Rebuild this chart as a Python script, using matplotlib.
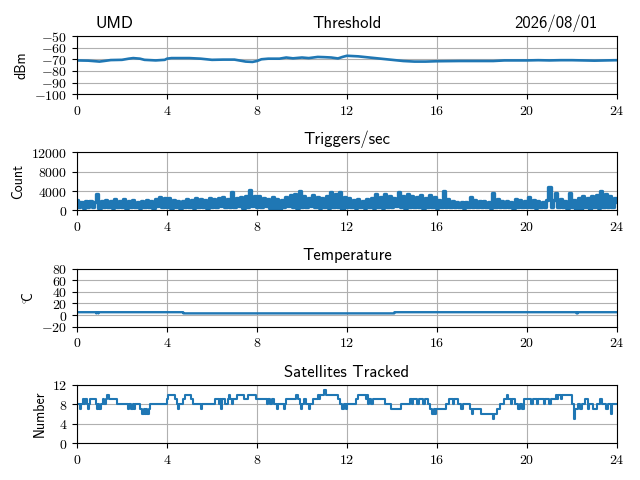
import numpy as np
import matplotlib
matplotlib.use("Agg")
import matplotlib.pyplot as plt
from matplotlib.ticker import FuncFormatter, MultipleLocator
from matplotlib.transforms import offset_copy

plt.rcParams['font.family'] = ['cmss10', 'DejaVu Sans']
plt.rcParams['mathtext.fontset'] = 'cm'
plt.rcParams['axes.unicode_minus'] = True

site_name = "UMD"
date_label = "2026/08/01"
titles = ["Threshold", "Triggers/sec", "Temperature", "Satellites Tracked"]
ylabels = ["dBm", "Count", "$^{\\circ}\\!\\!\\mathsf{C}$", "Number"]

# Threshold (dBm)
thr_hours = [0, 0.5, 1.0, 1.2, 1.5, 2.0, 2.3, 2.5, 2.8, 3.0, 3.5, 3.9, 4.0, 4.2, 5.0, 5.5,
             6.0, 6.5, 7.0, 7.5, 7.8, 8.0, 8.2, 8.5, 9.0, 9.3, 9.6, 10.0, 10.3, 10.7, 11.0,
             11.3, 11.6, 11.8, 12.0, 12.5, 13.0, 13.5, 14.0, 14.5, 15.0, 15.5, 16.0, 17.0,
             18.0, 18.5, 19.0, 19.5, 20.0, 20.5, 21.0, 21.5, 22.0, 22.5, 23.0, 23.5, 24.0]
thr_dbm = [-71, -71.2, -72, -71.5, -70.7, -70.5, -69.5, -69, -69.5, -70.5, -71, -70.5, -69.5,
           -69, -69, -69.5, -70.5, -70.3, -70.3, -72, -72.3, -71.5, -70, -69.5, -69.5, -68.5,
           -69.2, -68.5, -69, -68, -68.2, -68.5, -69.3, -68, -67, -67.5, -68.5, -69.5, -70.5,
           -71.5, -72, -72, -71.7, -71.5, -71.5, -71.5, -71, -71, -71, -70.8, -71, -70.8,
           -70.8, -71, -71.2, -71, -70.8]

# Triggers per second (sampled every 0.1 h)
trig_counts = [
    2200, 700, 1800, 600, 2000, 800, 1900, 700, 1800, 3300,
    600, 2000, 800, 2100, 700, 1900, 600, 2300, 800, 2000,
    700, 2400, 600, 1900, 800, 2200, 700, 1800, 600, 1900,
    800, 2100, 700, 2000, 600, 2400, 900, 2800, 700, 2500,
    800, 2600, 600, 2200, 700, 2000, 600, 1900, 800, 2300,
    700, 2100, 600, 2500, 800, 2400, 700, 2200, 600, 2600,
    800, 2300, 700, 2500, 900, 2700, 700, 2400, 800, 3800,
    700, 2500, 900, 2800, 600, 2900, 800, 4200, 1000, 3000,
    800, 3000, 700, 2600, 900, 2300, 600, 2800, 500, 2400,
    300, 2200, 700, 2800, 900, 3200, 800, 3400, 600, 4000,
    800, 3000, 700, 2600, 900, 3100, 700, 2800, 600, 2500,
    800, 2900, 600, 3800, 800, 3400, 700, 3900, 200, 2700,
    700, 2500, 800, 2200, 600, 2400, 700, 2000, 600, 2300,
    800, 2500, 600, 3300, 700, 2800, 600, 3300, 800, 3000,
    700, 2600, 900, 3800, 700, 2900, 600, 3400, 800, 3000,
    700, 2700, 800, 3200, 600, 2500, 700, 3100, 800, 2700,
    600, 2200, 700, 4000, 800, 2300, 700, 2000, 800, 1800,
    700, 1700, 600, 1800, 700, 2700, 800, 2100, 700, 1900,
    800, 2000, 700, 1800, 600, 3500, 800, 2400, 700, 2000,
    800, 1900, 700, 1800, 600, 2300, 800, 2100, 700, 1900,
    800, 2700, 700, 2200, 600, 2000, 700, 1800, 800, 2100,
    4900, 700, 2200, 3600, 800, 2400, 700, 2000, 600, 3500,
    700, 2200, 300, 2500, 0, 2900, 700, 2600, 200, 3000,
    700, 3100, 600, 4100, 800, 3300, 700, 3000, 800, 2500,
    1800]

# Temperature (deg C)
temp_hours = [0, 0.85, 0.86, 0.9, 0.95, 0.96, 1.0, 4.72, 4.73, 14.1, 14.11, 22.2, 22.21, 22.25, 22.26, 24]
temp_c = [5, 5, 3, 5, 3, 5, 5, 5, 3, 3, 5, 5, 3, 3, 5, 5]

# Satellites tracked (step changes)
sat_hours = [0.0, 0.12, 0.17, 0.25, 0.32, 0.36, 0.45, 0.5, 0.55, 0.6, 0.85, 0.9, 0.95, 1.0, 1.05,
             1.15, 1.22, 1.28, 1.35, 1.43, 1.8, 2.25, 2.3, 2.42, 2.47, 2.55, 2.6, 2.8, 2.9, 2.97,
             3.02, 3.08, 3.12, 3.18, 3.25, 4.0, 4.05, 4.35, 4.45, 4.5, 4.55, 4.7, 4.78, 5.05,
             5.15, 5.5, 5.55, 6.15, 6.3, 6.35, 6.4, 6.45, 6.6, 6.7, 6.75, 6.82, 6.9, 6.95, 7.1,
             7.42, 7.6, 7.95, 8.45, 8.5, 8.6, 8.65, 8.75, 8.9, 8.95, 9.2, 9.25, 9.3, 9.75, 9.82,
             9.9, 9.95, 10.0, 10.1, 10.2, 10.3, 10.35, 10.5, 10.7, 10.75, 10.82, 11.0, 11.06,
             11.6, 11.7, 11.8, 11.85, 11.95, 12.0, 12.4, 12.5, 12.85, 12.9, 12.95, 13.0, 13.05,
             13.15, 13.7, 13.95, 14.4, 14.8, 14.9, 14.95, 15.1, 15.2, 15.4, 15.45, 15.6, 15.7,
             15.8, 15.85, 15.9, 15.95, 16.4, 16.55, 16.7, 16.75, 16.95, 17.05, 17.15, 17.45,
             17.55, 17.6, 17.95, 18.5, 18.55, 18.65, 18.8, 19.0, 19.1, 19.17, 19.3, 19.35,
             19.45, 19.6, 19.7, 19.8, 19.85, 20.2, 20.25, 20.45, 20.5, 20.75, 20.8, 21.0, 21.05,
             21.3, 21.35, 21.4, 21.5, 21.55, 22.0, 22.1, 22.15, 22.25, 22.35, 22.45, 22.6, 22.7,
             22.75, 22.95, 23.1, 23.25, 23.35, 23.5, 23.6, 23.75, 23.8, 24.0]
sat_count = [8, 7, 8, 9, 8, 9, 8, 7, 8, 9, 8, 7, 8, 7, 8,
             9, 8, 9, 10, 9, 8, 7, 8, 7, 8, 7, 8, 7, 6, 7,
             6, 7, 6, 7, 8, 9, 10, 9, 8, 7, 8, 9, 10, 9,
             8, 7, 8, 9, 8, 9, 7, 9, 8, 9, 10, 9, 8, 9, 10,
             9, 10, 9, 8, 9, 8, 9, 8, 7, 8, 7, 8, 9, 10, 9,
             8, 7, 8, 9, 8, 7, 8, 9, 10, 9, 10, 11, 10,
             9, 8, 7, 8, 7, 8, 9, 10, 9, 10, 8, 9, 8,
             9, 8, 7, 8, 9, 8, 9, 8, 9, 8, 9, 8, 7,
             6, 7, 6, 7, 8, 9, 8, 9, 8, 7, 8, 7,
             6, 7, 6, 5, 6, 7, 8, 9, 10, 9, 8, 9,
             8, 7, 8, 7, 9, 8, 9, 8, 9, 8, 9, 8, 9,
             10, 9, 10, 9, 10, 8, 5, 7, 8, 7, 8, 9, 7,
             8, 7, 8, 9, 8, 7, 8, 6, 8, 8]

ylims = [(-100, -50), (0, 12000), (-20, 80), (0, 12)]
ysteps = [10, 4000, 20, 4]
x_ticks = [0, 4, 8, 12, 16, 20, 24]

fig, axes = plt.subplots(4, 1, figsize=(6.4, 4.8), dpi=100)
fig.subplots_adjust(left=0.1203, right=0.964, top=0.925, bottom=0.077, hspace=1.0)

trig_hours = np.linspace(0, 24, len(trig_counts))
color = '#1f77b4'
axes[0].plot(thr_hours, thr_dbm, color=color, lw=1.9)
axes[1].plot(trig_hours, trig_counts, color=color, lw=2.4, drawstyle='steps-mid')
axes[2].plot(temp_hours, temp_c, color=color, lw=1.7)
axes[3].plot(sat_hours, sat_count, color=color, lw=1.5, drawstyle='steps-post')

fmt = FuncFormatter(lambda v, p: f"${v:g}$")
for ax, t, yl, lim, st in zip(axes, titles, ylabels, ylims, ysteps):
    ax.set_xlim(0, 24)
    ax.set_ylim(*lim)
    ax.set_xticks(x_ticks)
    ax.yaxis.set_major_locator(MultipleLocator(st))
    ax.xaxis.set_major_formatter(fmt)
    ax.yaxis.set_major_formatter(fmt)
    ax.grid(True, color='#b0b0b0', lw=0.8)
    ax.set_title(t, fontsize=12, pad=6)
    ax.set_ylabel(yl, fontsize=10)
    ax.tick_params(labelsize=10)

tr = offset_copy(axes[0].transAxes, fig=fig, y=6, units='points')
axes[0].text(0.069, 1.0, site_name, transform=tr, ha='center', va='baseline', fontsize=12)
axes[0].text(0.887, 1.0, date_label, transform=tr, ha='center', va='baseline', fontsize=12)

fig.savefig("out.png", dpi=100)
